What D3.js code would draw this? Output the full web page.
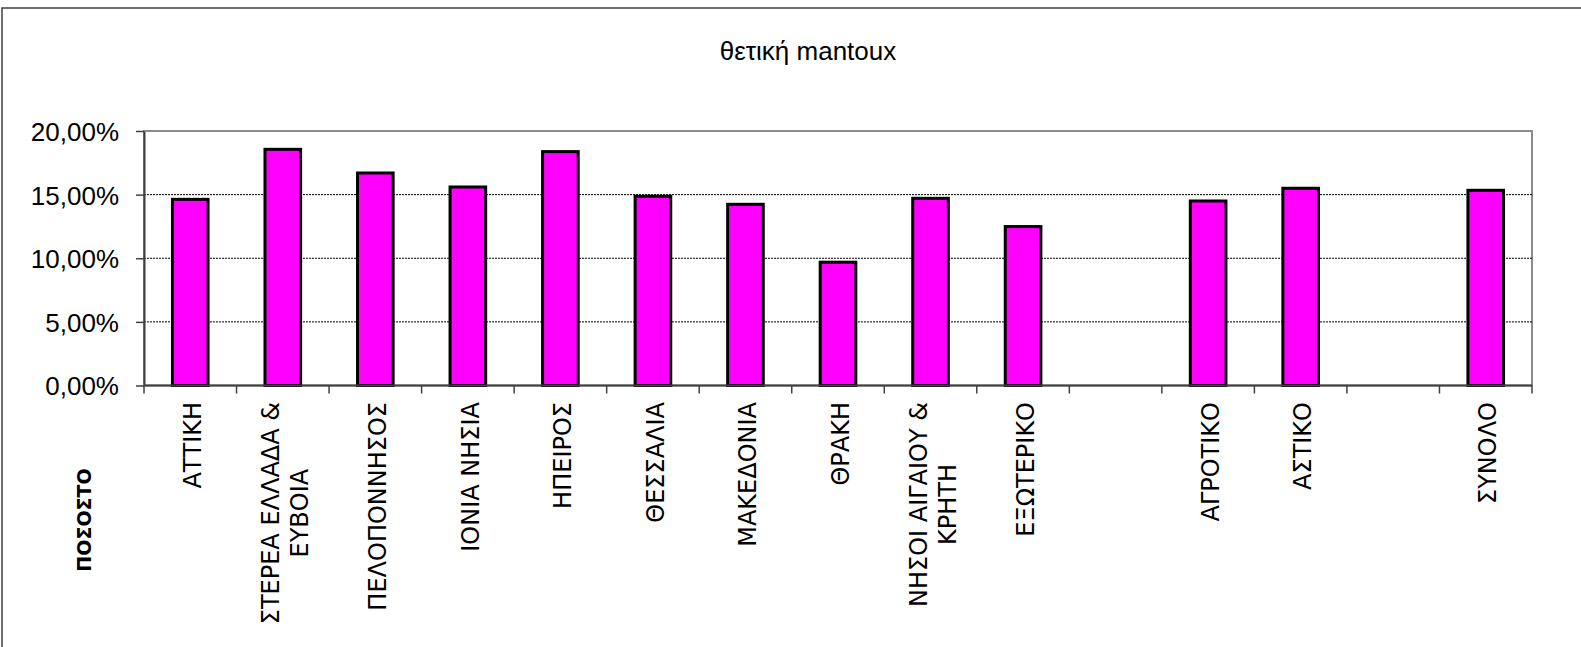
<!DOCTYPE html>
<html>
<head>
<meta charset="utf-8">
<script src="https://cdn.jsdelivr.net/npm/d3@7"></script>
<style>
  html, body { margin: 0; padding: 0; background: #fff; }
  svg { display: block; }
</style>
</head>
<body>
<svg id="chart" width="1581" height="647"></svg>
<script>
// Category slots along the x axis (empty strings are spacer slots)
const categories = [
  "ΑΤΤΙΚΗ", "ΣΤΕΡΕΑ ΕΛΛΑΔΑ &|ΕΥΒΟΙΑ", "ΠΕΛΟΠΟΝΝΗΣΟΣ", "ΙΟΝΙΑ ΝΗΣΙΑ", "ΗΠΕΙΡΟΣ",
  "ΘΕΣΣΑΛΙΑ", "ΜΑΚΕΔΟΝΙΑ", "ΘΡΑΚΗ", "ΝΗΣΟΙ ΑΙΓΑΙΟΥ &|ΚΡΗΤΗ", "ΕΞΩΤΕΡΙΚΟ",
  "", "ΑΓΡΟΤΙΚΟ", "ΑΣΤΙΚΟ", "", "ΣΥΝΟΛΟ"
];
// Share with a positive mantoux test, per slot (null = no bar)
const values = [
  0.1463, 0.1856, 0.1670, 0.1560, 0.1838,
  0.1487, 0.1424, 0.0969, 0.1471, 0.1249,
  null, 0.1450, 0.1550, null, 0.1534
];
const yTicks = [0, 0.05, 0.10, 0.15, 0.20];
const titleText = "θετική mantoux";
const yAxisTitle = "ΠΟΣΟΣΤΟ";

const svg = d3.select("#chart");
const plot = { left: 144, right: 1532, top: 131, bottom: 385.5 };

// Outer chart frame
svg.append("rect")
  .attr("x", 2).attr("y", 8)
  .attr("width", 1640).attr("height", 700)
  .attr("fill", "#fff").attr("stroke", "#404040").attr("stroke-width", 1.5);

const slots = d3.range(categories.length);
const x = d3.scaleBand().domain(slots).range([plot.left, plot.right]).paddingInner(0).paddingOuter(0);
const y = d3.scaleLinear().domain([0, 0.20]).range([plot.bottom, plot.top]);

// Plot area border (top and right in gray)
svg.append("rect")
  .attr("x", plot.left).attr("y", plot.top)
  .attr("width", plot.right - plot.left).attr("height", plot.bottom - plot.top)
  .attr("fill", "none").attr("stroke", "#8c8c8c").attr("stroke-width", 2);

// Dotted gridlines
svg.append("g")
  .selectAll("line")
  .data(yTicks.filter(t => t > 0 && t < 0.20))
  .join("line")
  .attr("x1", plot.left).attr("x2", plot.right)
  .attr("y1", d => y(d)).attr("y2", d => y(d))
  .attr("stroke", "#000").attr("stroke-width", 1)
  .attr("stroke-dasharray", "2,1");

// Bars
const barW = x.bandwidth() * 0.385;
svg.append("g")
  .selectAll("rect")
  .data(values.map((v, i) => ({ v, i })).filter(d => d.v != null))
  .join("rect")
  .attr("x", d => x(d.i) + x.bandwidth() / 2 - barW / 2)
  .attr("y", d => y(d.v))
  .attr("width", barW)
  .attr("height", d => y(0) - y(d.v))
  .attr("fill", "#ff00ff")
  .attr("stroke", "#000")
  .attr("stroke-width", 3);

// Y axis
const fmt = d => d3.format(".2f")(d * 100).replace(".", ",") + "%";
const yAxis = svg.append("g")
  .attr("transform", `translate(${plot.left},0)`)
  .call(d3.axisLeft(y).tickValues(yTicks).tickFormat(fmt).tickSize(8).tickSizeOuter(0));
yAxis.select(".domain").attr("stroke", "#404040").attr("stroke-width", 2);
yAxis.selectAll(".tick line").attr("stroke", "#404040").attr("stroke-width", 1.5);
yAxis.selectAll(".tick text")
  .attr("x", -25)
  .attr("dy", "0.36em")
  .attr("fill", "#000")
  .style("font-family", "'Liberation Sans', Arial, sans-serif")
  .style("font-size", "26px");

// X axis line and tick marks at slot boundaries
const xg = svg.append("g");
xg.append("line")
  .attr("x1", plot.left).attr("x2", plot.right)
  .attr("y1", plot.bottom).attr("y2", plot.bottom)
  .attr("stroke", "#404040").attr("stroke-width", 2);
xg.selectAll("line.tk")
  .data(d3.range(categories.length + 1))
  .join("line")
  .attr("class", "tk")
  .attr("x1", d => plot.left + d * x.step()).attr("x2", d => plot.left + d * x.step())
  .attr("y1", plot.bottom).attr("y2", plot.bottom + 8)
  .attr("stroke", "#404040").attr("stroke-width", 1.5);

// Rotated category labels, multi-line entries centred on each other
const labelTop = 402;
const lineH = 29;
const labels = svg.append("g")
  .selectAll("text")
  .data(categories.map((c, i) => ({ lines: c ? c.split("|") : [], i })).filter(d => d.lines.length))
  .join("text")
  .style("font-family", "'DejaVu Sans', Verdana, sans-serif")
  .style("font-size", "24px")
  .attr("fill", "#000")
  .attr("text-anchor", "middle");
labels.each(function (d) {
  const t = d3.select(this);
  const n = d.lines.length;
  d.lines.forEach((ln, k) => {
    t.append("tspan")
      .attr("x", 0)
      .attr("y", (k - (n - 1) / 2) * lineH)
      .attr("dy", "0.36em")
      .text(ln);
  });
  let maxLen = 0;
  t.selectAll("tspan").each(function () { maxLen = Math.max(maxLen, this.getComputedTextLength()); });
  const cx = x(d.i) + x.bandwidth() / 2 + 2;
  const cy = labelTop + maxLen / 2;
  t.attr("transform", `translate(${cx},${cy}) rotate(-90)`);
});

// Chart title
svg.append("text")
  .attr("x", 808).attr("y", 60)
  .attr("text-anchor", "middle")
  .style("font-family", "'Liberation Sans', Arial, sans-serif")
  .style("font-size", "26px")
  .attr("fill", "#000")
  .text(titleText);

// Y axis title
svg.append("text")
  .attr("transform", "translate(84,520) rotate(-90)")
  .attr("text-anchor", "middle")
  .attr("dy", "0.36em")
  .style("font-family", "'DejaVu Sans', Verdana, sans-serif")
  .style("font-size", "19px")
  .style("font-weight", "bold")
  .attr("fill", "#000")
  .text(yAxisTitle);
</script>
</body>
</html>
